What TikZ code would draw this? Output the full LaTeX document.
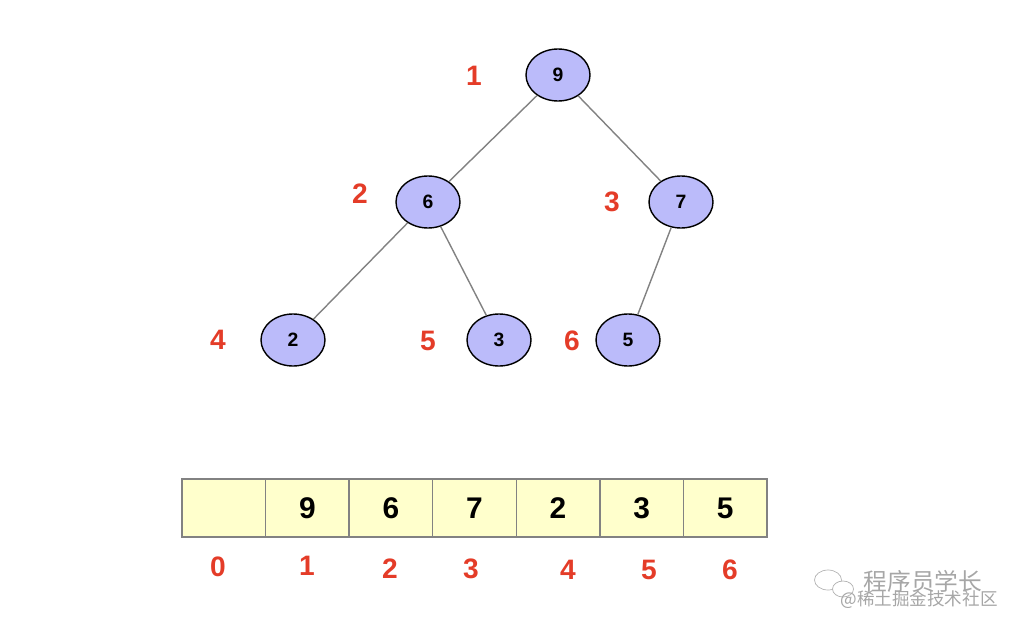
\documentclass[tikz,border=0pt]{standalone}
\usepackage{fontspec}
\setmainfont{Liberation Sans}
\newfontfamily\cjk{Noto Sans CJK SC}
\usetikzlibrary{shapes.geometric}
\definecolor{lila}{RGB}{187,187,250}
\definecolor{rojito}{RGB}{228,60,40}
\definecolor{amarillito}{RGB}{255,255,204}
\definecolor{grisito}{RGB}{130,130,130}
\tikzset{heapnode/.style={ellipse, draw=black, thick, fill=lila, minimum width=1.28cm, minimum height=1.04cm, inner sep=0pt, font=\bfseries\fontsize{11}{11}\selectfont},
         idx/.style={text=rojito, font=\bfseries\fontsize{16}{16}\selectfont},
         cell/.style={draw=grisito, thick, fill=amarillito, minimum width=1.67cm, minimum height=1.16cm, inner sep=0pt, font=\bfseries\fontsize{17}{17}\selectfont},
         link/.style={draw=grisito, thick},
         marca/.style={text=black!35, inner sep=0pt}}

\begin{document}
\begin{tikzpicture}
		 \useasboundingbox (0,0) rectangle (20.36,-12.56);
		 % heap as a tree
		 \node[heapnode] (n9) at (11.16,-1.5) {9};
		 \node[heapnode] (n6) at (8.56,-4.04) {6};
		 \node[heapnode] (n7) at (13.62,-4.04) {7};
		 \node[heapnode] (n2) at (5.86,-6.8) {2};
		 \node[heapnode] (n3) at (9.98,-6.8) {3};
		 \node[heapnode] (n5) at (12.56,-6.8) {5};
		 \draw[link] (n9) -- (n6);
		 \draw[link] (n9) -- (n7);
		 \draw[link] (n6) -- (n2);
		 \draw[link] (n6) -- (n3);
		 \draw[link] (n7) -- (n5);

		 \node[idx] (t1) at (9.48,-1.52) {1};
		 \node[idx] (t2) at (7.2,-3.88) {2};
		 \node[idx] (t3) at (12.24,-4.04) {3};
		 \node[idx] (t4) at (4.36,-6.8) {4};
		 \node[idx] (t5) at (8.56,-6.82) {5};
		 \node[idx] (t6) at (11.44,-6.82) {6};

		 % heap as an array
		 \foreach \v [count=\i from 0] in {{},9,6,7,2,3,5}
		   \node[cell] (c\i) at (4.476+1.671*\i,-10.16) {\v};

		 \node[idx] (a0) at (4.36,-11.34) {0};
		 \node[idx] (a1) at (6.14,-11.32) {1};
		 \node[idx] (a2) at (7.8,-11.38) {2};
		 \node[idx] (a3) at (9.42,-11.38) {3};
		 \node[idx] (a4) at (11.36,-11.4) {4};
		 \node[idx] (a5) at (12.98,-11.4) {5};
		 \node[idx] (a6) at (14.6,-11.4) {6};

		 % watermark
		 \draw[black!30] (16.56,-11.6) ellipse (0.27 and 0.2);
		 \draw[black!30,fill=white] (16.86,-11.78) ellipse (0.21 and 0.16);
		 \node[marca, font=\cjk\fontsize{13.5}{13.5}\selectfont] (w1) at (18.46,-11.62) {程序员学长};
		 \node[marca, font=\cjk\fontsize{10}{10}\selectfont] (w2) at (18.38,-12.0) {@稀土掘金技术社区};
\end{tikzpicture}
\end{document}
